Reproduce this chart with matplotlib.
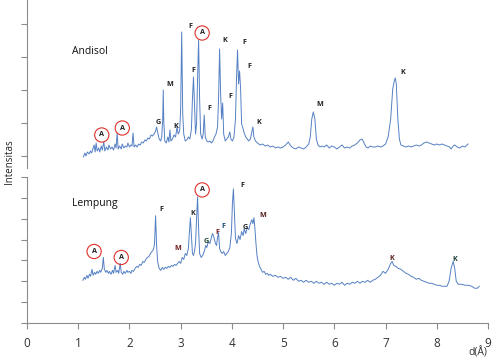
import matplotlib
matplotlib.use("Agg")
import matplotlib.pyplot as plt
import numpy as np

plt.rcParams['font.family'] = ['Open Sans', 'DejaVu Sans']

# ---------------- data: Andisol (upper panel) ----------------
andisol_d = [1.10, 1.13, 1.15, 1.18, 1.21, 1.24, 1.26, 1.28, 1.31, 1.33, 1.35, 1.37, 1.40, 1.42,
             1.45, 1.47, 1.50, 1.52, 1.55, 1.58, 1.60, 1.63, 1.66, 1.69, 1.72, 1.74, 1.76, 1.78,
             1.81, 1.84, 1.86, 1.89, 1.92, 1.95, 1.97, 2.00, 2.03, 2.05, 2.07, 2.09, 2.12, 2.15,
             2.18, 2.21, 2.24, 2.27, 2.30, 2.33, 2.36, 2.39, 2.42, 2.45, 2.48, 2.51, 2.53, 2.55,
             2.58, 2.61, 2.63, 2.65, 2.66, 2.67, 2.69, 2.72, 2.75, 2.77, 2.79, 2.81, 2.84, 2.87,
             2.90, 2.93, 2.95, 2.98, 3.00, 3.02, 3.04, 3.06, 3.09, 3.12, 3.15, 3.18, 3.21, 3.23,
             3.25, 3.27, 3.29, 3.31, 3.33, 3.35, 3.37, 3.39, 3.42, 3.44, 3.46, 3.48, 3.51, 3.54,
             3.57, 3.60, 3.63, 3.66, 3.69, 3.72, 3.74, 3.76, 3.78, 3.80, 3.82, 3.84, 3.87, 3.90,
             3.93, 3.96, 3.98, 4.01, 4.04, 4.07, 4.09, 4.11, 4.13, 4.15, 4.17, 4.19, 4.21, 4.24,
             4.27, 4.30, 4.33, 4.36, 4.38, 4.41, 4.43, 4.46, 4.50, 4.55, 4.60, 4.65, 4.70, 4.75,
             4.80, 4.85, 4.90, 4.95, 5.00, 5.05, 5.10, 5.15, 5.20, 5.25, 5.30, 5.35, 5.40, 5.45,
             5.50, 5.53, 5.56, 5.59, 5.62, 5.65, 5.68, 5.72, 5.76, 5.80, 5.85, 5.90, 5.95, 6.00,
             6.05, 6.10, 6.15, 6.20, 6.25, 6.30, 6.35, 6.40, 6.45, 6.50, 6.54, 6.58, 6.62, 6.66,
             6.70, 6.75, 6.80, 6.85, 6.90, 6.95, 7.00, 7.05, 7.10, 7.14, 7.17, 7.19, 7.21, 7.24,
             7.27, 7.30, 7.35, 7.40, 7.45, 7.50, 7.55, 7.60, 7.65, 7.70, 7.75, 7.80, 7.85, 7.90,
             7.95, 8.00, 8.05, 8.10, 8.15, 8.20, 8.25, 8.28, 8.32, 8.35, 8.40, 8.45, 8.50, 8.55,
             8.61]
andisol_i = [32, 36, 33, 37, 35, 38, 36, 39, 44, 37, 46, 38, 41, 37,
             43, 39, 47, 38, 42, 39, 44, 40, 42, 39, 45, 41, 56, 40,
             43, 40, 45, 41, 43, 42, 46, 42, 44, 43, 56, 42, 44, 42,
             45, 44, 47, 46, 49, 48, 51, 50, 54, 53, 55, 58, 62, 57,
             50, 48, 52, 70, 99, 68, 48, 46, 52, 47, 59, 48, 50, 54,
             52, 62, 55, 58, 80, 157, 75, 55, 48, 49, 52, 50, 60, 90,
             112, 85, 55, 65, 110, 149, 90, 55, 50, 55, 74, 52, 48, 47,
             48, 46, 48, 52, 55, 62, 90, 140, 95, 70, 86, 55, 48, 50,
             52, 57, 50, 48, 52, 70, 110, 139, 105, 118, 100, 65, 62, 56,
             52, 50, 48, 50, 55, 62, 52, 48, 46, 44, 45, 43, 44, 42,
             43, 41, 42, 41, 42, 44, 47, 43, 41, 40, 42, 41, 40, 42,
             45, 52, 70, 77, 70, 50, 44, 42, 43, 42, 44, 41, 43, 42,
             40, 42, 44, 41, 42, 41, 43, 44, 46, 49, 50, 46, 42, 41,
             43, 42, 42, 43, 42, 43, 45, 52, 70, 100, 108, 111, 105, 70,
             50, 44, 43, 42, 43, 42, 43, 44, 43, 44, 46, 47, 46, 45,
             44, 45, 44, 45, 44, 43, 42, 40, 43, 44, 42, 41, 43, 42,
             45]

# ---------------- data: Lempung (lower panel) ----------------
lempung_d = [1.09, 1.12, 1.14, 1.17, 1.19, 1.22, 1.24, 1.27, 1.29, 1.32, 1.34, 1.37, 1.39, 1.42,
             1.44, 1.47, 1.49, 1.51, 1.54, 1.56, 1.59, 1.61, 1.64, 1.67, 1.69, 1.72, 1.74, 1.77,
             1.79, 1.82, 1.84, 1.87, 1.89, 1.92, 1.95, 1.97, 2.00, 2.03, 2.05, 2.08, 2.11, 2.14,
             2.17, 2.20, 2.23, 2.26, 2.29, 2.32, 2.35, 2.38, 2.41, 2.44, 2.47, 2.49, 2.51, 2.53,
             2.55, 2.58, 2.61, 2.64, 2.67, 2.70, 2.73, 2.76, 2.79, 2.82, 2.85, 2.88, 2.91, 2.94,
             2.97, 3.00, 3.03, 3.06, 3.09, 3.12, 3.15, 3.17, 3.19, 3.21, 3.23, 3.25, 3.27, 3.29,
             3.31, 3.33, 3.35, 3.37, 3.40, 3.43, 3.46, 3.49, 3.51, 3.54, 3.57, 3.60, 3.62, 3.64,
             3.66, 3.68, 3.70, 3.72, 3.74, 3.76, 3.78, 3.81, 3.84, 3.87, 3.90, 3.93, 3.96, 3.99,
             4.01, 4.03, 4.05, 4.07, 4.10, 4.13, 4.16, 4.19, 4.22, 4.24, 4.27, 4.30, 4.33, 4.36,
             4.39, 4.41, 4.43, 4.45, 4.47, 4.49, 4.51, 4.54, 4.57, 4.60, 4.63, 4.66, 4.69, 4.72,
             4.75, 4.80, 4.85, 4.90, 4.95, 5.00, 5.05, 5.10, 5.15, 5.20, 5.25, 5.30, 5.35, 5.40,
             5.45, 5.50, 5.55, 5.60, 5.65, 5.70, 5.75, 5.80, 5.85, 5.90, 5.95, 6.00, 6.05, 6.10,
             6.15, 6.20, 6.25, 6.30, 6.35, 6.40, 6.45, 6.50, 6.55, 6.60, 6.65, 6.70, 6.75, 6.80,
             6.85, 6.90, 6.95, 7.00, 7.05, 7.10, 7.13, 7.16, 7.20, 7.25, 7.30, 7.35, 7.40, 7.45,
             7.50, 7.55, 7.60, 7.65, 7.70, 7.75, 7.80, 7.85, 7.90, 7.95, 8.00, 8.05, 8.10, 8.15,
             8.20, 8.24, 8.28, 8.32, 8.35, 8.38, 8.42, 8.48, 8.55, 8.62, 8.68, 8.74, 8.79, 8.83]
lempung_i = [43, 46, 44, 48, 45, 49, 47, 54, 48, 51, 49, 52, 50, 53,
             51, 55, 66, 54, 51, 53, 50, 52, 49, 53, 50, 58, 51, 53,
             50, 60, 51, 49, 52, 50, 53, 51, 52, 50, 53, 52, 55, 57,
             56, 59, 58, 62, 61, 64, 66, 67, 70, 72, 74, 80, 108, 78,
             62, 55, 53, 56, 54, 56, 55, 57, 56, 58, 57, 59, 58, 60,
             62, 60, 66, 64, 70, 68, 75, 90, 106, 88, 70, 68, 72, 80,
             105, 127, 95, 70, 66, 68, 72, 78, 76, 82, 80, 86, 90, 88,
             84, 80, 78, 86, 91, 75, 72, 70, 72, 68, 70, 72, 76, 90,
             120, 135, 110, 85, 80, 88, 84, 92, 88, 95, 90, 96, 94, 100,
             104, 100, 106, 95, 80, 68, 62, 57, 54, 51, 52, 49, 50, 48,
             49, 47, 48, 46, 47, 45, 46, 44, 46, 43, 45, 42, 43, 41,
             43, 41, 42, 40, 42, 40, 41, 39, 41, 39, 40, 38, 40, 39,
             41, 38, 40, 39, 41, 40, 42, 40, 42, 41, 43, 41, 43, 44,
             46, 48, 52, 50, 54, 60, 62, 58, 57, 55, 54, 52, 50, 49,
             47, 46, 44, 45, 43, 42, 41, 40, 40, 39, 38, 38, 37, 37,
             37, 42, 55, 62, 55, 42, 39, 39, 38, 38, 37, 35, 35, 37]

# ---------------- peak annotations ----------------
andisol_labels = ["G", "M", "K", "F", "F", "F", "K", "F", "F", "F", "K", "M", "K"]
andisol_lab_d = [2.56, 2.79, 2.91, 3.18, 3.24, 3.57, 3.87, 3.98, 4.24, 4.34, 4.53, 5.72, 7.34]
andisol_lab_i = [67, 105, 63, 162, 119, 80, 148, 92, 147, 122, 66, 84, 116]
andisol_A_d = [1.46, 1.86, 3.42]
andisol_A_i = [54, 61, 156]

lempung_labels = ["F", "M", "K", "G", "F", "F", "F", "G", "M", "K", "K"]
lempung_lab_d = [2.62, 2.95, 3.24, 3.50, 3.71, 3.83, 4.20, 4.26, 4.61, 7.13, 8.36]
lempung_lab_i = [114, 75, 110, 82, 91, 97, 138, 96, 108, 65, 64]
lempung_lab_c = ["#222222", "#6b1f1f", "#2a2a2a", "#1f3f2a", "#7a1f1f", "#1f4e79",
                 "#222222", "#222222", "#5a1e1e", "#5a1e1e", "#1f3f3f"]
lempung_A_d = [1.31, 1.84, 3.42]
lempung_A_i = [72, 66, 134]

x_ticks = [0, 1, 2, 3, 4, 5, 6, 7, 8, 9]

# ---------------- figure ----------------
W, H = 492, 359
fig = plt.figure(figsize=(W / 100, H / 100), dpi=100)

ax_top = fig.add_axes([27 / W, 1 - 168 / H, (488 - 27) / W, 168 / H])
ax_bot = fig.add_axes([27 / W, 1 - 323 / H, (488 - 27) / W, (323 - 177) / H])

line_color = "#5580c4"
spine_color = "#8c8c8c"

for ax in (ax_top, ax_bot):
    ax.set_xlim(0, 9)
    for s in ("top", "right"):
        ax.spines[s].set_visible(False)
    ax.spines["left"].set_color(spine_color)
    ax.spines["bottom"].set_color(spine_color)
    ax.tick_params(axis="y", direction="out", length=4, color=spine_color, labelleft=False)
    ax.set_facecolor("none")

# upper panel
ax_top.plot(andisol_d, andisol_i, color=line_color, lw=0.7)
ax_top.set_ylim(21, 189)
ax_top.set_yticks([33, 66, 99, 132, 165])
ax_top.spines["bottom"].set_visible(False)
ax_top.tick_params(axis="x", bottom=False, labelbottom=False)

# lower panel
ax_bot.plot(lempung_d, lempung_i, color=line_color, lw=0.7)
ax_bot.set_ylim(0, 147)
ax_bot.set_yticks(np.arange(0, 148, 21))
ax_bot.set_xticks(x_ticks)
ax_bot.tick_params(axis="x", direction="out", length=4, color=spine_color, labelsize=8.5,
                   labelcolor="#333333", pad=6)

lab_kw = dict(fontsize=5.2, ha="center", va="center", fontweight="bold")
for t, d, i in zip(andisol_labels, andisol_lab_d, andisol_lab_i):
    ax_top.text(d, i, t, color="#222222", **lab_kw)
for d, i in zip(andisol_A_d, andisol_A_i):
    ax_top.text(d, i, "A", color="#222222", **lab_kw)
ax_top.scatter(andisol_A_d, andisol_A_i, s=105, facecolors="none", edgecolors="#e0302a",
               linewidths=0.8, zorder=5)

for t, d, i, c in zip(lempung_labels, lempung_lab_d, lempung_lab_i, lempung_lab_c):
    ax_bot.text(d, i, t, color=c, **lab_kw)
for d, i in zip(lempung_A_d, lempung_A_i):
    ax_bot.text(d, i, "A", color="#222222", **lab_kw)
ax_bot.scatter(lempung_A_d, lempung_A_i, s=105, facecolors="none", edgecolors="#e0302a",
               linewidths=0.8, zorder=5)

ax_top.text(0.88, 137, "Andisol", fontsize=7.5, ha="left", va="center", color="#111111")
ax_bot.text(0.88, 120, "Lempung", fontsize=7.5, ha="left", va="center", color="#111111")

fig.text(10 / W, 1 - 162 / H, "Intensitas", rotation=90, fontsize=7, ha="center", va="center",
         color="#222222")
fig.text(478 / W, 1 - 347 / H, "d(Å)", fontsize=7.5, ha="center", va="top", color="#333333")

fig.savefig("out.png", dpi=100)
